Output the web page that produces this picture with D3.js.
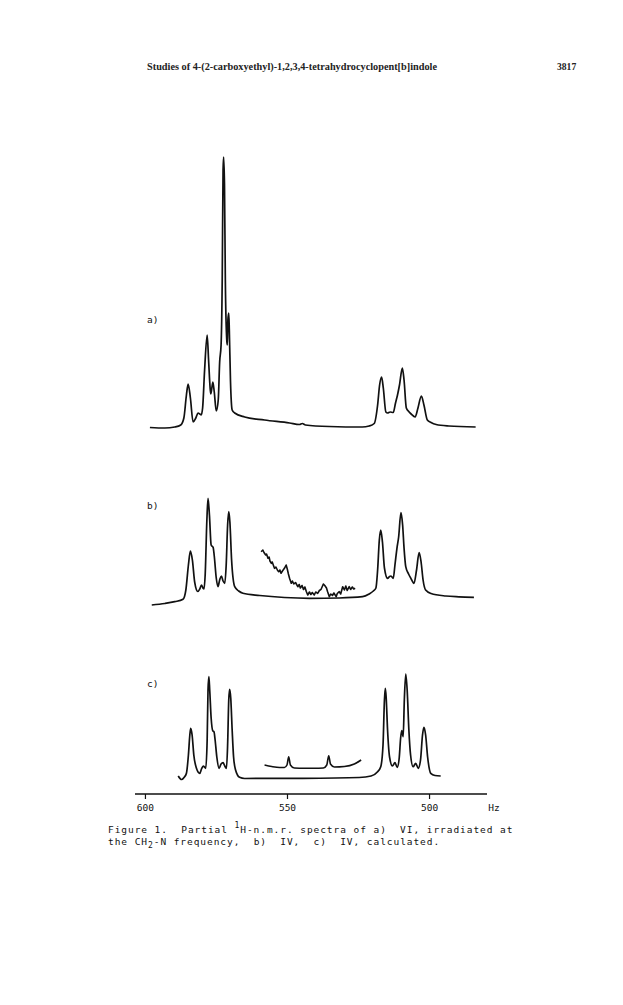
<!DOCTYPE html>
<html><head><meta charset="utf-8">
<script src="https://cdn.jsdelivr.net/npm/d3@7"></script>
<style>
html,body{margin:0;padding:0;background:#fff;}
svg{display:block;}
.mono{font-family:"DejaVu Sans Mono",monospace;font-size:9.5px;fill:#111;white-space:pre;}
</style></head>
<body>
<svg id="chart" width="623" height="1005"></svg>
<script>
// ---- data (Hz, intensity) ----
const tickValues = [600, 550, 500];
const tickLabels = ["600", "550", "500"];
const unitLabel = "Hz";
const panelLabels = ["a)", "b)", "c)"];
const headerTitle = "Studies of 4-(2-carboxyethyl)-1,2,3,4-tetrahydrocyclopent[b]indole";
const pageNumber = "3817";

const spectrumA = [
 [598.25,0.5],[593.0,0],[589.5,1],[587.4,3],[586.3,10],[585.4,33],[584.8,44],[584.0,30],[583.05,6],
 [582.1,10],[581.3,15],[580.7,14],[580.2,13],[579.7,20],[579.0,58],[578.1,93],[577.6,68],[577.0,38],
 [576.8,34],[576.1,46],[575.6,36],[574.9,17],[574.2,28],[573.7,66],[573.2,83],[572.8,148],[572.5,258],
 [572.3,271],[572.0,243],[571.7,148],[571.2,88],[571.0,83],[570.8,108],[570.5,115],[570.3,98],[569.9,48],
 [569.3,18],[568.4,15],[564.9,11],[557.9,8],[549.1,5],[545.6,3.5],[544.6,4.5],[543.5,3],[535.1,1.5],
 [523.5,1],[521.1,2],[519.3,4.5],[518.1,23],[517.4,43],[516.7,51],[516.1,40],[515.2,16],[514.6,15],
 [513.7,16],[512.6,15.5],[511.8,25],[511.1,33],[510.4,43],[509.4,60],[508.8,48],[508.0,20],[507.0,16],
 [506.3,14],[504.9,11],[503.9,20],[502.7,32],[501.8,23],[500.6,8],[499.3,5.5],[497.5,3.5],[493.0,2],[483.6,1]
];
const spectrumB = [
 [597.6,0],[593.0,1.5],[589.5,3.3],[586.6,5.7],[585.6,15],[584.7,40],[584.0,54],[583.3,45],[582.5,23],
 [581.4,13.5],[580.7,16],[580.1,20],[579.6,17],[579.2,16],[578.8,30],[578.2,85],[577.8,106.7],[577.3,90],
 [576.7,60],[576.0,57.7],[575.6,49],[574.9,27],[574.3,18.3],[573.7,25],[573.1,29],[572.5,24],[571.9,21.7],
 [571.4,40],[570.9,80],[570.5,93.3],[570.1,83],[569.5,45],[568.4,18.3],[567.0,14],[565.5,11.7],[559.6,9.5],
 [550.9,7.5],[542.1,6.7],[531.6,7],[523.4,8.3],[521.1,11],[519.6,14],[518.7,17],[518.1,35],[517.5,65],
 [517.0,75],[516.4,63],[515.7,37],[514.6,26.7],[513.9,28.5],[513.4,29],[512.6,26.7],[512.0,40],[511.3,56.7],
 [510.7,68],[509.9,92.3],[509.3,80],[508.8,57],[508.2,38.3],[507.2,31],[506.4,26.7],[505.3,21.7],[504.4,35],
 [503.5,52.3],[502.8,43],[502.1,25],[501.2,15],[499.3,11.5],[494.1,9],[489.5,8.2],[484.2,7.7]
];
const insetB = [
 [559.1,53.3],[558.5,55],[558.1,52.5],[557.5,50],[557.2,51],[556.7,46.7],[556.3,48],[556.0,44],[555.5,41.7],
 [555.2,43],[554.7,39],[554.4,36.7],[553.9,38],[553.3,34.5],[552.9,33.3],[552.5,35],[552.1,31.7],[551.6,34],
 [550.9,36.7],[550.3,40],[549.9,36],[549.5,31],[549.1,26.7],[548.5,21.7],[548.1,24],[547.6,21],[547.0,22.5],
 [546.2,18.3],[545.7,20.5],[545.3,17],[544.7,19.5],[544.2,15.5],[543.7,18],[543.2,13.5],[542.7,10],[542.1,13],
 [541.6,10.5],[541.1,12.5],[540.4,10],[539.9,13],[539.2,11.7],[538.6,14.5],[538.0,15.7],[537.5,19],[537.2,21],
 [536.7,19.5],[536.1,17],[535.7,13.3],[535.1,8.3],[534.6,11],[534.0,9.5],[533.5,12],[532.7,8.3],[532.3,11.5],
 [531.6,13.3],[531.1,11],[530.4,18.3],[529.8,15],[529.3,19],[528.8,14.5],[528.1,18.3],[527.6,15.5],[527.0,18],
 [526.5,16],[526.0,16.7]
];
const spectrumC = [
 [588.3,3],[587.1,-0.5],[586.1,2],[585.4,5.7],[584.7,24],[584.2,44],[583.9,50.7],[583.4,44],[582.8,24],
 [581.9,11],[580.7,5.7],[580.1,10],[579.5,13],[578.9,11.5],[578.6,10.7],[578.1,39],[577.8,89],[577.5,102.3],
 [577.2,89],[576.7,61],[576.1,48],[575.7,47.3],[575.3,39],[574.7,22],[573.9,10.7],[573.2,15],[572.5,16.3],
 [571.9,13],[571.3,10.7],[570.9,34],[570.5,79],[570.2,89.7],[569.8,81],[569.3,49],[568.8,22],[568.1,9],
 [566.7,1.7],[564.9,0.5],[545.6,0.7],[524.6,1.5],[520.4,3],[518.2,7],[517.0,12.3],[516.2,34],[515.7,79],
 [515.4,90.7],[515.1,82],[514.6,49],[513.9,22],[512.9,13],[512.0,16.3],[511.2,11.7],[510.5,21],[510.0,41],
 [509.6,48.3],[509.1,42.3],[508.7,79],[508.2,105],[507.7,89],[507.1,49],[506.5,24],[505.6,12.3],[504.7,15.7],
 [503.8,10.7],[503.0,19],[502.3,44],[501.8,51.7],[501.2,44],[500.5,22],[499.4,5.7],[497.9,3.5],[495.9,3]
];
const insetC = [
 [557.9,14],[555.4,12.5],[552.6,11.5],[550.9,11.5],[550.0,14],[549.4,22.3],[548.8,14],[547.4,11],
 [543.9,10.7],[540.4,10.7],[537.2,11],[536.0,14],[535.3,23.3],[534.7,15],[533.3,12],[529.8,12.5],
 [526.3,15],[523.9,19]
];

// ---- drawing ----
const svg = d3.select("#chart");
const ink = "#111";

// header
svg.append("text").attr("x",147).attr("y",70)
  .attr("textLength",290).attr("lengthAdjust","spacingAndGlyphs")
  .style("font-family","'Liberation Serif',serif").style("font-size","9.6px")
  .style("font-weight","bold").style("fill","#222").text(headerTitle);
svg.append("text").attr("x",557).attr("y",70)
  .style("font-family","'Liberation Serif',serif").style("font-size","9.6px")
  .style("font-weight","bold").style("fill","#222").text(pageNumber);

const x = d3.scaleLinear().domain([603.5, 479.6]).range([135, 487]);

const panels = [
  {label: panelLabels[0], labelY: 323, y: d3.scaleLinear().domain([0,271]).range([428,157]), main: spectrumA, inset: null, insetCurve: null},
  {label: panelLabels[1], labelY: 509, y: d3.scaleLinear().domain([0,106.7]).range([605,498.3]), main: spectrumB, inset: insetB, insetCurve: d3.curveLinear},
  {label: panelLabels[2], labelY: 687, y: d3.scaleLinear().domain([0,105]).range([779,674]), main: spectrumC, inset: insetC, insetCurve: d3.curveMonotoneX}
];

panels.forEach(p => {
  const g = svg.append("g");
  const line = d3.line().x(d => x(d[0])).y(d => p.y(d[1])).curve(d3.curveMonotoneX);
  g.append("path").datum(p.main).attr("d", line)
    .attr("fill","none").attr("stroke",ink).attr("stroke-width",1.7).attr("stroke-linejoin","round");
  if (p.inset) {
    const l2 = d3.line().x(d => x(d[0])).y(d => p.y(d[1])).curve(p.insetCurve);
    g.append("path").datum(p.inset).attr("d", l2)
      .attr("fill","none").attr("stroke",ink).attr("stroke-width",1.6).attr("stroke-linejoin","round");
  }
  g.append("text").attr("class","mono").attr("x",147).attr("y",p.labelY).text(p.label);
});

// axis
const axis = d3.axisBottom(x).tickValues(tickValues).tickSize(5).tickFormat((d,i) => tickLabels[i]);
const ag = svg.append("g").attr("transform","translate(0,794)").call(axis);
ag.select(".domain").attr("stroke",ink).attr("stroke-width",1.5).attr("d","M135,0H487");
ag.selectAll(".tick line").attr("stroke",ink).attr("stroke-width",1.2);
ag.selectAll(".tick text").attr("class","mono").attr("dy",null).attr("y",17)
  .style("font-family","'DejaVu Sans Mono',monospace").style("font-size","9.5px").attr("fill","#111");
svg.append("text").attr("class","mono").attr("x",494).attr("y",811).attr("text-anchor","middle").text(unitLabel);

// caption
const cap1 = svg.append("text").attr("class","mono").attr("x",108).attr("y",833).style("letter-spacing","0.94px");
cap1.append("tspan").text("Figure 1.  Partial ");
cap1.append("tspan").attr("dy",-5).style("font-size","8px").text("1");
cap1.append("tspan").attr("dy",5).text("H-n.m.r. spectra of a)  VI, irradiated at");
const cap2 = svg.append("text").attr("class","mono").attr("x",108).attr("y",845).style("letter-spacing","0.94px");
cap2.append("tspan").text("the CH");
cap2.append("tspan").attr("dy",3).style("font-size","8px").text("2");
cap2.append("tspan").attr("dy",-3).text("-N frequency,  b)  IV,  c)  IV, calculated.");
</script>
</body></html>
